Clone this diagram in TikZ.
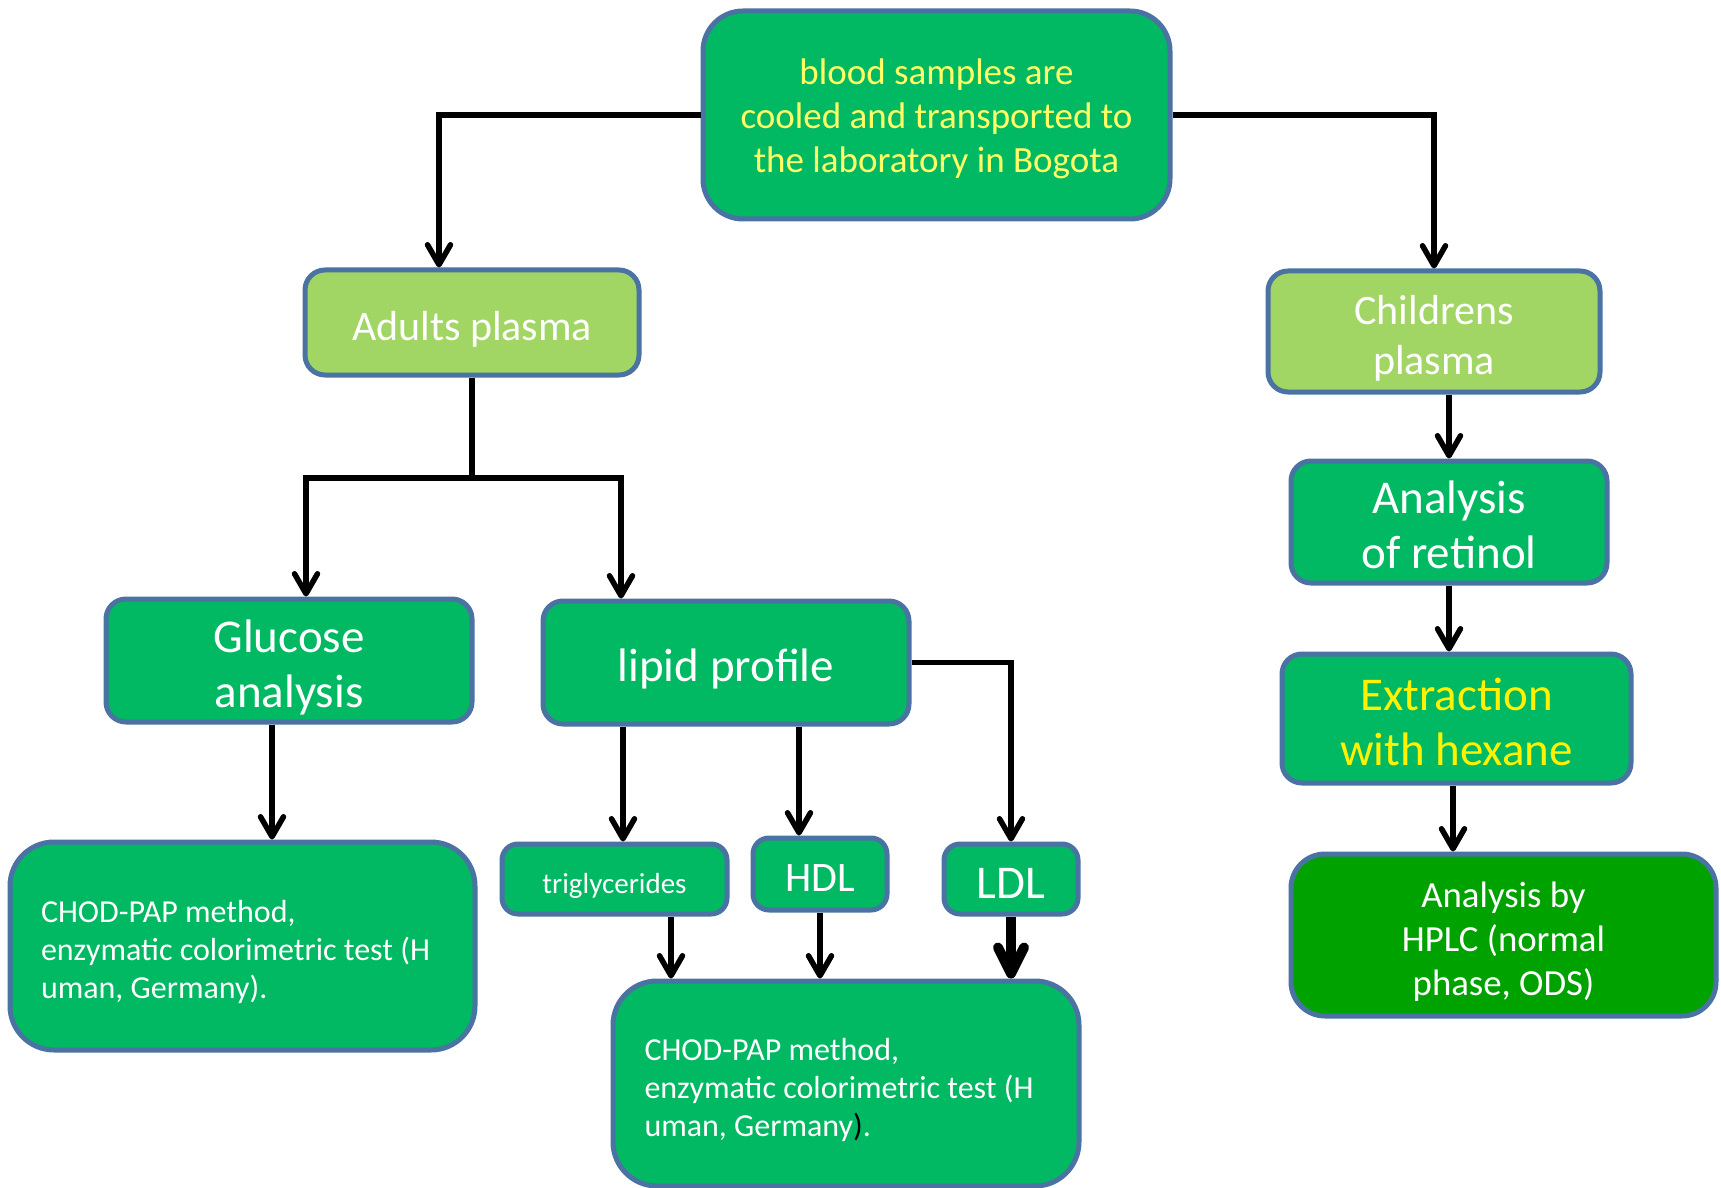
\documentclass[tikz,border=0pt]{standalone}
\usepackage{fontspec}
\setmainfont{Carlito}
\usetikzlibrary{arrows.meta,calc}
\definecolor{boxgreen}{HTML}{00B962}
\definecolor{lightgreen}{HTML}{A2D664}
\definecolor{darkgreen}{HTML}{00A200}
\definecolor{edgeblue}{HTML}{4A72A2}
\definecolor{paleyellow}{HTML}{FFFF66}
% extra room above the first line, so the text sits a little lower in its box
\newcommand\tpad{\rule{0pt}{\dimexpr0.78em+6pt\relax}}
% same descender depth on every last line
\newcommand\bpad[1][0.22em]{\rule[-#1]{0pt}{#1}}
% keep the font's own word spaces in left-aligned paragraphs
\newcommand\natsp{\spaceskip=0pt\xspaceskip=0pt\relax}
\begin{document}
\begin{tikzpicture}[x=0.5pt,y=-0.5pt,
  box/.style={draw=edgeblue, line width=2.5pt, fill=boxgreen, rounded corners=10pt,
    text=white, align=center, inner sep=0pt},
  link/.style={draw=black, line width=2.75pt},
  arr/.style={link, -{Straight Barb[length=10pt,width=11.5pt,round]}},
  arrbig/.style={draw=black, line width=5pt, -{Straight Barb[length=13pt,width=13pt,round]}},
  fA/.style={font=\fontsize{18.5}{22}\selectfont},
  fB/.style={font=\fontsize{21}{25}\selectfont},
  fC/.style={font=\fontsize{23.5}{27.5}\selectfont},
  fD/.style={font=\fontsize{18.4}{22}\selectfont},
  fE/.style={font=\fontsize{16}{19}\selectfont, align=flush left, text width=201.5pt}]
\useasboundingbox (0,0) rectangle (1721,1188);

% top box
\node[box, fA, rounded corners=20pt, minimum width=233.5pt, minimum height=104pt,
  text=paleyellow] (top) at (936.5,115)
  {\tpad blood samples are\\cooled and transported to\\the laboratory in Bogota\bpad[0.37em]};

% adults branch
\node[box, fB, fill=lightgreen, minimum width=167pt, minimum height=52.5pt] (adults)
  at (472,322.5) {\tpad Adults plasma\bpad};
\node[box, fC, minimum width=183pt, minimum height=61.5pt] (gluc) at (289,660.5)
  {\tpad Glucose\\analysis\bpad};
\node[box, fC, minimum width=183pt, minimum height=61.5pt] (lipid) at (726,662.5)
  {\tpad lipid profile\bpad};
\node[box, fE, rounded corners=22pt, minimum width=232.5pt, minimum height=104pt]
  (chod1) at (242.5,946)
  {\natsp\tpad CHOD-PAP method,\\enzymatic colorimetric test (H\\uman, Germany).\bpad};
\node[box, font=\fontsize{14.5}{17}\selectfont, rounded corners=8pt,
  minimum width=112.5pt, minimum height=35pt] (trig) at (614.5,879) {\tpad triglycerides\bpad};
\node[box, font=\fontsize{21}{25}\selectfont, rounded corners=8pt,
  minimum width=67pt, minimum height=36pt] (hdl) at (820,874) {\tpad HDL\bpad};
\node[box, fC, rounded corners=8pt, minimum width=67pt, minimum height=35pt]
  (ldl) at (1011,879) {\tpad LDL\bpad};
\node[box, fE, rounded corners=22pt, minimum width=233pt, minimum height=102.5pt]
  (chod2) at (846,1083.5)
  {\natsp\tpad CHOD-PAP method,\\enzymatic colorimetric test (H\\uman, Germany{\color{black})}.\bpad};

% children branch
\node[box, fB, fill=lightgreen, minimum width=166pt, minimum height=60.5pt] (child)
  at (1434,331.5) {\tpad Childrens\\plasma\bpad};
\node[box, fC, minimum width=158pt, minimum height=61pt] (ret) at (1449,522)
  {\tpad Analysis\\of retinol\bpad};
\node[box, fC, text=yellow, minimum width=174.5pt, minimum height=64.5pt] (ext)
  at (1456.5,718.5) {\tpad Extraction\\with hexane\bpad};
\node[box, fD, fill=darkgreen, rounded corners=17pt, minimum width=212.5pt,
  minimum height=81pt] (hplc) at (1503.5,935)
  {\tpad Analysis by\\HPLC (normal\\phase, ODS)\bpad};

% x positions of the vertical connector runs
\coordinate (xa) at (439,0);
\coordinate (xg1) at (306,0);
\coordinate (xl1) at (621,0);
\coordinate (xg2) at (272,0);
\coordinate (xt1) at (623,0);
\coordinate (xh) at (799,0);
\coordinate (xt2) at (671,0);
\coordinate (xe) at (1453,0);
\coordinate (split) at (472,478);

% connectors
\draw[arr] (top.west) -| (adults.north -| xa);
\draw[arr] (top.east) -| (child.north);
\draw[link] (adults.south) -- (split);
\draw[arr] (split) -| (gluc.north -| xg1);
\draw[arr] (split) -| (lipid.north -| xl1);
\draw[arr] (gluc.south -| xg2) -- (chod1.north -| xg2);
\draw[arr] (lipid.south -| xt1) -- (trig.north -| xt1);
\draw[arr] (lipid.south -| xh) -- (hdl.north -| xh);
\draw[arr] (lipid.east) -| (ldl.north);
\draw[arr] (trig.south -| xt2) -- (chod2.north -| xt2);
\draw[arr] (hdl.south) -- (hdl.south |- chod2.north);
\draw[arrbig] (ldl.south) -- (ldl.south |- chod2.north);
\draw[arr] (child.south -| ret.north) -- (ret.north);
\draw[arr] (ret.south) -- (ret.south |- ext.north);
\draw[arr] (ext.south -| xe) -- (hplc.north -| xe);
\end{tikzpicture}
\end{document}
